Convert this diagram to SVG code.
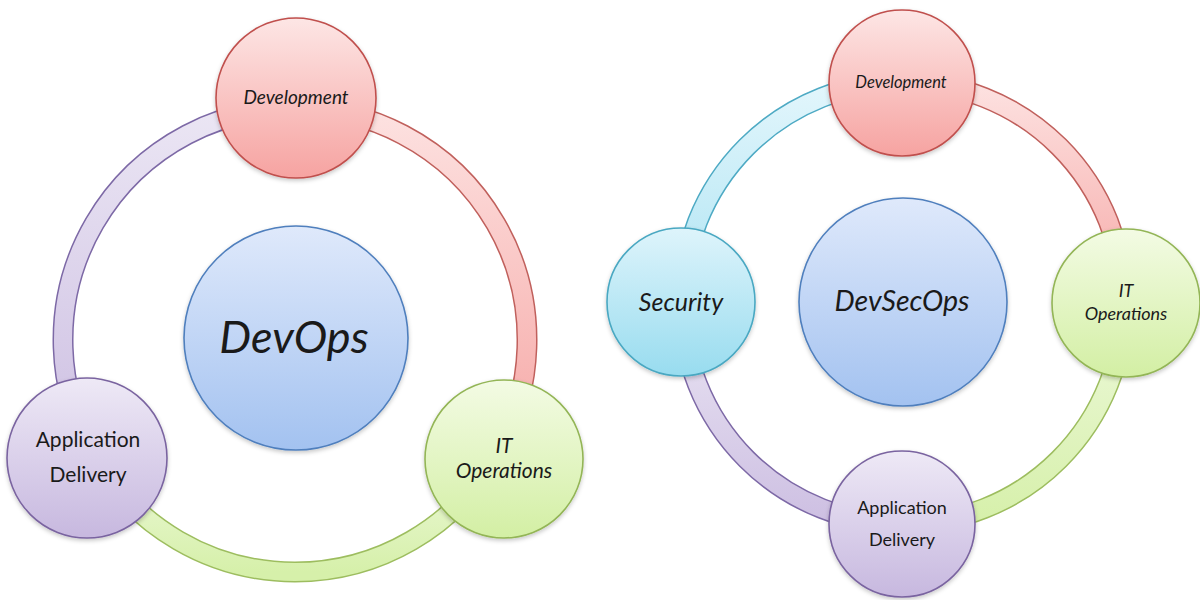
<svg xmlns="http://www.w3.org/2000/svg" width="1200" height="600" viewBox="0 0 1200 600">
  <defs>
    <!-- node fills: light at the top, richer at the bottom -->
    <linearGradient id="gRed" x1="0" y1="0" x2="0" y2="1">
      <stop offset="0" stop-color="#fde6e5"/>
      <stop offset="1" stop-color="#f6a3a1"/>
    </linearGradient>
    <linearGradient id="gPurple" x1="0" y1="0" x2="0" y2="1">
      <stop offset="0" stop-color="#eee9f6"/>
      <stop offset="1" stop-color="#c7b8df"/>
    </linearGradient>
    <linearGradient id="gGreen" x1="0" y1="0" x2="0" y2="1">
      <stop offset="0" stop-color="#f3fbe4"/>
      <stop offset="1" stop-color="#d3efa4"/>
    </linearGradient>
    <linearGradient id="gBlue" x1="0" y1="0" x2="0" y2="1">
      <stop offset="0" stop-color="#dfe9fb"/>
      <stop offset="1" stop-color="#a3c2f0"/>
    </linearGradient>
    <linearGradient id="gCyan" x1="0" y1="0" x2="0" y2="1">
      <stop offset="0" stop-color="#def4fb"/>
      <stop offset="1" stop-color="#98dcef"/>
    </linearGradient>
    <!-- ring band fills -->
    <linearGradient id="bRed" x1="0" y1="0" x2="0" y2="1">
      <stop offset="0" stop-color="#fde2e1"/>
      <stop offset="1" stop-color="#f6a8a6"/>
    </linearGradient>
    <linearGradient id="bPurple" x1="0" y1="0" x2="0" y2="1">
      <stop offset="0" stop-color="#ebe6f4"/>
      <stop offset="1" stop-color="#cdbfe2"/>
    </linearGradient>
    <linearGradient id="bGreen" x1="0" y1="0" x2="0" y2="1">
      <stop offset="0" stop-color="#eef9dc"/>
      <stop offset="1" stop-color="#d6f0aa"/>
    </linearGradient>
    <linearGradient id="bCyan" x1="0" y1="0" x2="0" y2="1">
      <stop offset="0" stop-color="#e3f6fc"/>
      <stop offset="1" stop-color="#aee4f3"/>
    </linearGradient>
    <filter id="soft" x="-20%" y="-20%" width="140%" height="150%">
      <feDropShadow dx="0" dy="2" stdDeviation="2" flood-color="#000" flood-opacity="0.22"/>
    </filter>
  </defs>
  <style>
    .edge { fill: none; stroke-linecap: butt; }
    .lineR { stroke: #c0605c; stroke-width: 21; }
    .lineP { stroke: #7d69a6; stroke-width: 21; }
    .lineG { stroke: #9dbd5f; stroke-width: 21; }
    .lineC { stroke: #4eaac4; stroke-width: 21; }
    .fillR { stroke: url(#bRed); stroke-width: 18; }
    .fillP { stroke: url(#bPurple); stroke-width: 18; }
    .fillG { stroke: url(#bGreen); stroke-width: 18; }
    .fillC { stroke: url(#bCyan); stroke-width: 18; }
    .node { stroke-width: 1.6; filter: url(#soft); }
    .red { fill: url(#gRed); stroke: #c0504d; }
    .purple { fill: url(#gPurple); stroke: #7a64a0; }
    .green { fill: url(#gGreen); stroke: #93b556; }
    .blue { fill: url(#gBlue); stroke: #4f7fbd; }
    .cyan { fill: url(#gCyan); stroke: #4aa8c2; }
    text { font-family: Lato, "Open Sans", "Liberation Sans", sans-serif; fill: #1a1a1a; text-anchor: middle; }
    .it { font-style: italic; }
  </style>

  <!-- ring bands (connectors) -->
  <g id="connectors" class="edge">
    <!-- left ring: centre (295,340), r 232 -->
    <path class="lineP" d="M 295 108 A 232 232 0 0 0 93.3 454.6"/>
    <path class="fillP" d="M 295 108 A 232 232 0 0 0 93.3 454.6"/>
    <path class="lineR" d="M 295 108 A 232 232 0 0 1 496.5 455"/>
    <path class="fillR" d="M 295 108 A 232 232 0 0 1 496.5 455"/>
    <path class="lineG" d="M 93.3 454.6 A 232 232 0 0 0 496.5 455"/>
    <path class="fillG" d="M 93.3 454.6 A 232 232 0 0 0 496.5 455"/>
    <!-- right ring: centre (903,303), r 221 -->
    <path class="lineC" d="M 903 82 A 221 221 0 0 0 682 303"/>
    <path class="fillC" d="M 903 82 A 221 221 0 0 0 682 303"/>
    <path class="lineR" d="M 903 82 A 221 221 0 0 1 1124 303"/>
    <path class="fillR" d="M 903 82 A 221 221 0 0 1 1124 303"/>
    <path class="lineG" d="M 1124 303 A 221 221 0 0 1 903 524"/>
    <path class="fillG" d="M 1124 303 A 221 221 0 0 1 903 524"/>
    <path class="lineP" d="M 682 303 A 221 221 0 0 0 903 524"/>
    <path class="fillP" d="M 682 303 A 221 221 0 0 0 903 524"/>
  </g>

  <!-- DevOps cycle -->
  <g id="devops-core">
    <circle class="node blue" cx="296" cy="338" r="112"/>
    <text class="it" x="294" y="353" font-size="45">DevOps</text>
  </g>
  <g id="devops-development">
    <circle class="node red" cx="296" cy="98" r="80"/>
    <text class="it" x="296" y="104" font-size="19">Development</text>
  </g>
  <g id="devops-app-delivery">
    <circle class="node purple" cx="87" cy="458" r="80"/>
    <text x="88" y="447" font-size="21">Application</text>
    <text x="88" y="482" font-size="21">Delivery</text>
  </g>
  <g id="devops-it-operations">
    <circle class="node green" cx="504" cy="459" r="79"/>
    <text class="it" x="504" y="453" font-size="21">IT</text>
    <text class="it" x="504" y="478" font-size="21">Operations</text>
  </g>

  <!-- DevSecOps cycle -->
  <g id="devsecops-core">
    <circle class="node blue" cx="903" cy="302" r="104"/>
    <text class="it" x="902" y="311" font-size="28.5">DevSecOps</text>
  </g>
  <g id="devsecops-development">
    <circle class="node red" cx="902" cy="83" r="73"/>
    <text class="it" x="901" y="88" font-size="16.5">Development</text>
  </g>
  <g id="devsecops-security">
    <circle class="node cyan" cx="681" cy="302" r="74"/>
    <text class="it" x="681" y="311" font-size="25">Security</text>
  </g>
  <g id="devsecops-it-operations">
    <circle class="node green" cx="1126" cy="303" r="74"/>
    <text class="it" x="1126" y="297" font-size="18">IT</text>
    <text class="it" x="1126" y="320" font-size="18">Operations</text>
  </g>
  <g id="devsecops-app-delivery">
    <circle class="node purple" cx="902" cy="524" r="73"/>
    <text x="902" y="514" font-size="18">Application</text>
    <text x="902" y="546" font-size="18">Delivery</text>
  </g>
</svg>
